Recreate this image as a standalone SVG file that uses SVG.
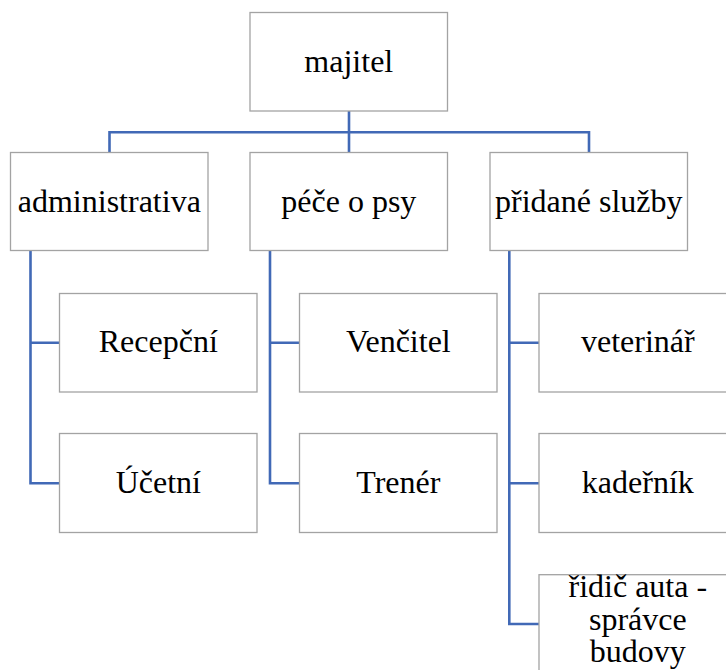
<svg xmlns="http://www.w3.org/2000/svg" width="726" height="670" viewBox="0 0 726 670">
<style>
.box{fill:#ffffff;stroke:#a3a3a3;stroke-width:1.3}
.lbl{font-family:"Liberation Serif","Times New Roman",serif;font-size:32px;fill:#000;text-anchor:middle}
.con{fill:none;stroke:#4169b6;stroke-width:2.6}
</style>
<rect width="726" height="670" fill="#ffffff"/>
<g id="connectors">
<path class="con" d="M349,111 V152.5 M109.5,152.5 V132.3 H589 V152.5"/>
<path class="con" d="M30.5,250.5 V483.3 H59.5 M30.5,342.7 H59.5"/>
<path class="con" d="M270,250.5 V483.3 H299.5 M270,342.7 H299.5"/>
<path class="con" d="M509.3,250.5 V624 H539 M509.3,342.7 H539 M509.3,483.3 H539"/>
</g>
<g id="majitel"><rect class="box" x="250" y="12.5" width="197.5" height="98.5"/><text class="lbl" x="348.8" y="72">majitel</text></g>
<g id="administrativa"><rect class="box" x="10.5" y="152.5" width="197.5" height="98"/><text class="lbl" x="109.3" y="212">administrativa</text></g>
<g id="pece"><rect class="box" x="250" y="152.5" width="197.5" height="98"/><text class="lbl" x="348.8" y="212">péče o psy</text></g>
<g id="pridane"><rect class="box" x="490" y="152.5" width="197.5" height="98"/><text class="lbl" x="588.8" y="212">přidané služby</text></g>
<g id="recepcni"><rect class="box" x="59.5" y="293.5" width="197.5" height="98.5"/><text class="lbl" x="158.3" y="352">Recepční</text></g>
<g id="ucetni"><rect class="box" x="59.5" y="433.5" width="197.5" height="99"/><text class="lbl" x="158.3" y="493">Účetní</text></g>
<g id="vencitel"><rect class="box" x="299.5" y="293.5" width="197.5" height="98.5"/><text class="lbl" x="398.3" y="352">Venčitel</text></g>
<g id="trener"><rect class="box" x="299.5" y="433.5" width="197.5" height="99"/><text class="lbl" x="398.3" y="493">Trenér</text></g>
<g id="veterinar"><rect class="box" x="539" y="293.5" width="197.5" height="98.5"/><text class="lbl" x="637.8" y="352">veterinář</text></g>
<g id="kadernik"><rect class="box" x="539" y="433.5" width="197.5" height="99"/><text class="lbl" x="637.8" y="493">kadeřník</text></g>
<g id="ridic"><rect class="box" x="539" y="574.7" width="197.5" height="99"/><text class="lbl" x="637.8" y="597">řidič auta -</text><text class="lbl" x="637.8" y="630">správce</text><text class="lbl" x="637.8" y="662">budovy</text></g>
</svg>
